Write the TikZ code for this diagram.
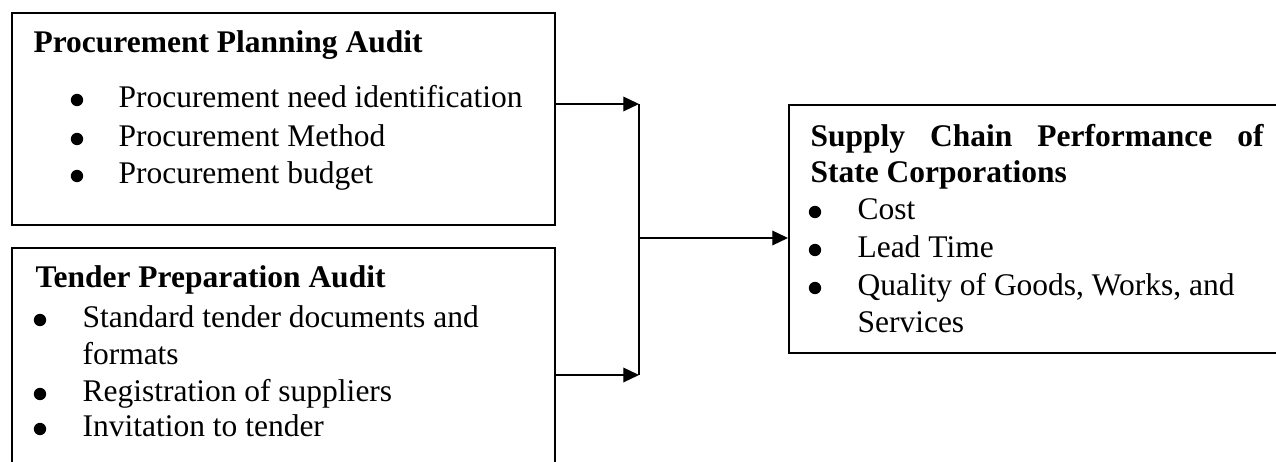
\documentclass[tikz,border=0pt]{standalone}
\usepackage{fontspec}
\setmainfont{Liberation Serif}
\usetikzlibrary{arrows.meta}
\begin{document}
\begin{tikzpicture}[x=0.381pt,y=-0.381pt,
  box/.style={draw, line width=0.6pt, inner sep=0pt, anchor=north west},
  txt/.style={anchor=base west, inner sep=0pt, font=\fontsize{12}{14}\selectfont},
  ttl/.style={anchor=base west, inner sep=0pt, font=\fontsize{12}{14}\selectfont\bfseries},
  dot/.style={circle, fill=black, inner sep=0pt, minimum size=4.7pt},
  arr/.style={line width=0.55pt, -{Triangle[length=6pt,width=5.6pt]}}]
\useasboundingbox (0,0) rectangle (1276,462);
\clip (0,0) rectangle (1276,462);
% boxes
\node[box, minimum width=206.9pt, minimum height=80.8pt] (b1) at (11,12) {};
\node[box, minimum width=206.9pt, minimum height=91.4pt] (b2) at (11,247) {};
\node[box, minimum width=188.2pt, minimum height=94.5pt] (b3) at (788,104) {};
% box 1 text
\node[ttl] (t1) at (33,53) {Procurement Planning Audit};
\node[dot] (p1) at (77,100) {};
\node[dot] (p2) at (77,139) {};
\node[dot] (p3) at (77,176) {};
\node[txt] (l11) at (118,108) {Procurement need identification};
\node[txt] (l12) at (118,147) {Procurement Method};
\node[txt] (l13) at (118,184) {Procurement budget};
% box 2 text
\node[ttl] (t2) at (35,288) {Tender Preparation Audit};
\node[dot] (q1) at (40,320) {};
\node[dot] (q2) at (40,394) {};
\node[dot] (q3) at (40,429) {};
\node[txt] (l21) at (82,328) {Standard tender documents and};
\node[txt] (l22) at (82,365) {formats};
\node[txt] (l23) at (82,402) {Registration of suppliers};
\node[txt] (l24) at (82,437) {Invitation to tender};
% box 3 text
\node[ttl] (t3a) at (810,147) {\makebox[172.6pt][s]{Supply Chain Performance of}};
\node[ttl] (t3b) at (810,183) {State Corporations};
\node[dot] (r1) at (815,212) {};
\node[dot] (r2) at (815,250) {};
\node[dot] (r3) at (815,288) {};
\node[txt] (l31) at (857,220) {Cost};
\node[txt] (l32) at (857,258) {Lead Time};
\node[txt] (l33) at (857,296) {Quality of Goods, Works, and};
\node[txt] (l34) at (857,333) {Services};
% connectors
\coordinate (j1) at (639,104);
\coordinate (j2) at (639,375);
\coordinate (jm) at (639,238);
\draw[arr] (b1.east |- j1) -- (j1);
\draw[arr] (b2.east |- j2) -- (j2);
\draw[line width=0.75pt] (j1) -- (j2);
\draw[arr] (jm) -- (b3.west |- jm);
\end{tikzpicture}
\end{document}
